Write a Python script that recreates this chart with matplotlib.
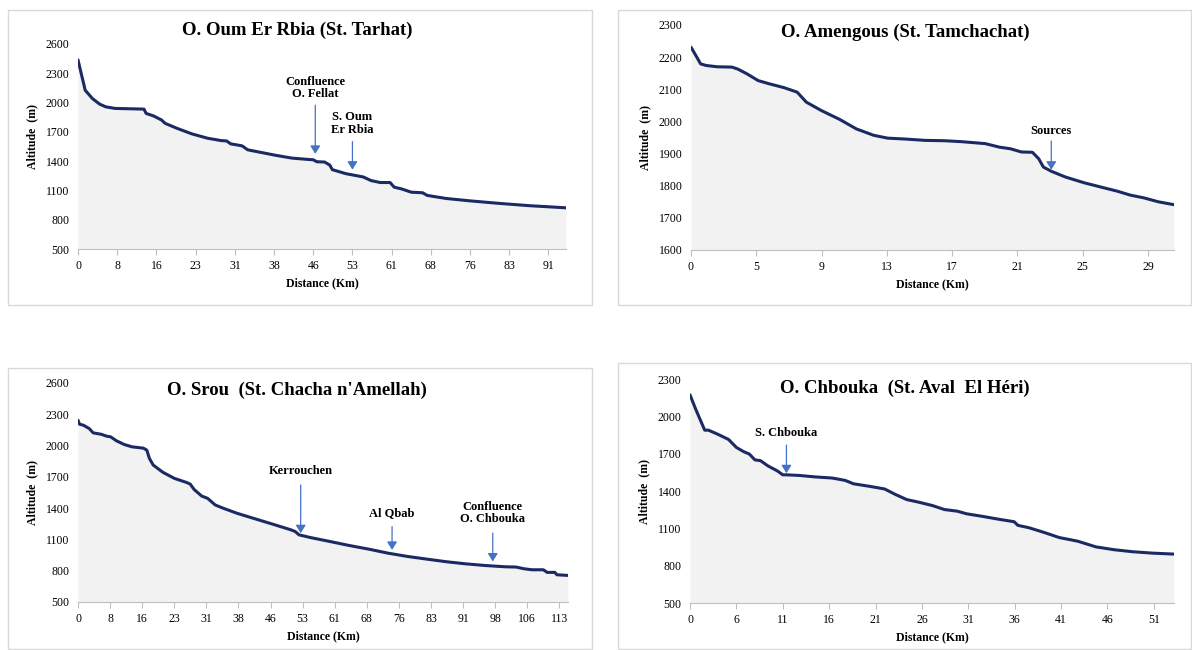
import numpy as np
import matplotlib.pyplot as plt
from matplotlib.patches import Rectangle

plt.rcParams['font.family'] = ['Liberation Serif', 'DejaVu Serif']

# O. Oum Er Rbia (St. Tarhat)
km_oum = [0, 1.4, 2.8, 4.2, 5.4, 7.2, 12.8, 13.2, 14.7, 16.2, 16.9, 19.2, 22.1, 25.1, 27.7,
          28.8, 29.6, 31.8, 32.9, 35.5, 38.5, 41.5, 44.5, 45.6, 46.3, 47.8, 48.8, 49.3,
          51.9, 55.3, 56.8, 58.6, 60.5, 61.3, 62.7, 64.6, 66.8, 67.7, 71.3, 75.8, 81.7,
          87.7, 94.6]
alt_oum = [2437, 2126, 2041, 1984, 1956, 1940, 1933, 1889, 1862, 1821, 1787, 1736, 1679,
           1635, 1611, 1607, 1577, 1557, 1516, 1489, 1458, 1431, 1418, 1414, 1394, 1391,
           1360, 1313, 1272, 1238, 1201, 1181, 1181, 1133, 1116, 1082, 1076, 1049, 1018,
           994, 967, 943, 922]
ticks_oum = ['0', '8', '16', '23', '31', '38', '46', '53', '61', '68', '76', '83', '91']

# O. Amengous (St. Tamchachat)
km_ame = [0, 0.31, 0.61, 0.97, 1.67, 2.6, 2.97, 3.56, 4.27, 4.98, 5.92, 6.75, 7.33, 8.28,
          9.46, 10.5, 11.6, 12.5, 13.7, 14.9, 16.1, 17.2, 18.7, 19.6, 20.3, 21.0, 21.7,
          22.1, 22.4, 22.9, 23.8, 25.0, 26.2, 27.1, 27.9, 28.8, 29.7, 30.7]
alt_ame = [2231, 2205, 2179, 2174, 2170, 2169, 2163, 2148, 2127, 2117, 2105, 2091, 2060,
           2034, 2006, 1977, 1957, 1948, 1945, 1941, 1940, 1937, 1931, 1920, 1915, 1905,
           1904, 1884, 1858, 1845, 1827, 1809, 1794, 1783, 1771, 1762, 1750, 1741]
ticks_ame = ['0', '5', '9', '13', '17', '21', '25', '29']

# O. Srou (St. Chacha n'Amellah)
km_srou = [0, 0.37, 1.28, 2.65, 3.56, 5.4, 6.75, 7.67, 9.04, 10.9, 12.7, 15.4, 16.2, 16.8,
           17.7, 20.0, 22.7, 25.5, 26.4, 27.3, 29.1, 30.5, 32.3, 34.2, 37.4, 41.0, 45.6,
           50.1, 51.1, 52.0, 54.7, 59.3, 63.8, 68.4, 73.0, 77.5, 82.1, 86.7, 91.2, 95.8,
           100.4, 103.1, 104.9, 106.8, 109.5, 110.4, 112.2, 112.7, 115.3]
alt_srou = [2243, 2205, 2195, 2163, 2122, 2109, 2090, 2084, 2046, 2010, 1988, 1975, 1956,
            1877, 1813, 1743, 1685, 1647, 1631, 1580, 1516, 1494, 1430, 1399, 1351, 1306,
            1249, 1192, 1176, 1144, 1118, 1080, 1042, 1007, 968, 937, 911, 886, 866, 850,
            838, 835, 819, 809, 809, 784, 784, 761, 755]
ticks_srou = ['0', '8', '16', '23', '31', '38', '46', '53', '61', '68', '76', '83', '91',
              '98', '106', '113']

# O. Chbouka (St. Aval El Héri)
km_chb = [0, 0.6, 1.6, 2.0, 3.0, 4.2, 5.05, 5.85, 6.46, 7.07, 7.67, 8.48, 9.5, 10.1, 10.5,
          11.9, 13.5, 15.5, 16.9, 17.8, 19.6, 21.2, 22.4, 23.6, 24.8, 26.4, 27.7, 29.1,
          30.1, 31.7, 33.7, 35.3, 35.7, 36.9, 38.6, 40.2, 42.2, 44.2, 46.2, 48.2, 50.3, 52.7]
alt_chb = [2173, 2061, 1889, 1889, 1857, 1814, 1750, 1716, 1697, 1650, 1644, 1602, 1562,
           1530, 1530, 1525, 1514, 1504, 1485, 1458, 1437, 1416, 1371, 1331, 1312, 1283,
           1251, 1238, 1217, 1198, 1172, 1153, 1124, 1105, 1066, 1026, 997, 951, 928, 912,
           901, 893]
ticks_chb = ['0', '6', '11', '16', '21', '26', '31', '36', '41', '46', '51']

W, H = 1192, 650
fig = plt.figure(figsize=(W / 100, H / 100), dpi=100)

line_col = '#1b2a63'
fill_col = '#f2f2f2'
arrow_col = '#4472c4'


def px_axes(l, t, r, b):
    return fig.add_axes([l / W, 1 - b / H, (r - l) / W, (b - t) / H])


def frame(l, t, r, b):
    fig.patches.append(Rectangle((l / W, 1 - b / H), (r - l) / W, (b - t) / H,
                                 transform=fig.transFigure, fill=False,
                                 edgecolor='#d9d9d9', lw=1.0))


def profile(ax, km, alt, labels, step, yticks, title, title_pos, notes, ylab_y=0.5):
    ax.fill_between(km, alt, yticks[0], color=fill_col, lw=0)
    ax.plot(km, alt, color=line_col, lw=2.2, solid_capstyle='round')
    ax.set_xlim(0, km[-1])
    ax.set_ylim(yticks[0], yticks[-1])
    ax.set_yticks(yticks)
    ax.set_xticks([i * step for i in range(len(labels))])
    ax.set_xticklabels(labels)
    ax.tick_params(axis='y', length=0, labelsize=8.5, pad=6)
    ax.tick_params(axis='x', length=4, color='#bfbfbf', labelsize=8.5, pad=4)
    for s in ['top', 'right', 'left']:
        ax.spines[s].set_visible(False)
    ax.spines['bottom'].set_color('#bfbfbf')
    ax.set_xlabel('Distance (Km)', fontsize=8.5, fontweight='bold', labelpad=4)
    ax.set_ylabel('Altitude  (m)', fontsize=8.5, fontweight='bold')
    ax.yaxis.set_label_coords(-40 / ax.bbox.width, ylab_y)
    fig.text(title_pos[0] / W, 1 - title_pos[1] / H, title, fontsize=13.5,
             fontweight='bold', ha='center', va='center')
    for txt, x, ytxt, y0, y1 in notes:
        ax.text(x, ytxt, txt, ha='center', va='center', fontsize=9,
                fontweight='bold', linespacing=1.05)
        ax.annotate('', xy=(x, y1), xytext=(x, y0),
                    arrowprops=dict(arrowstyle='-|>,head_length=0.4,head_width=0.25',
                                    color=arrow_col, lw=0.9,
                                    mutation_scale=12, shrinkA=0, shrinkB=0))


frame(8, 10, 592, 305)
frame(618, 10, 1191, 305)
frame(8, 368, 592, 649)
frame(618, 363, 1191, 649)

ax1 = px_axes(78, 44, 566, 249)
profile(ax1, km_oum, alt_oum, ticks_oum, 7.6, list(range(500, 2601, 300)),
        'O. Oum Er Rbia (St. Tarhat)', (297, 30),
        [('Confluence\nO. Fellat', 46.0, 2150, 1973, 1475),
         ('S. Oum\nEr Rbia', 53.2, 1787, 1600, 1313)], ylab_y=0.55)

ax2 = px_axes(691, 25, 1174, 250)
profile(ax2, km_ame, alt_ame, ticks_ame, 4.15, list(range(1600, 2301, 100)),
        'O. Amengous (St. Tamchachat)', (905, 32),
        [('Sources', 22.9, 1969, 1939, 1850)])

ax3 = px_axes(78, 383, 568, 602)
profile(ax3, km_srou, alt_srou, ticks_srou, 7.55, list(range(500, 2601, 300)),
        "O. Srou  (St. Chacha n'Amellah)", (297, 390),
        [('Kerrouchen', 52.4, 1756, 1622, 1160),
         ('Al Qbab', 73.9, 1351, 1223, 1000),
         ('Confluence\nO. Chbouka', 97.6, 1351, 1160, 889)])

ax4 = px_axes(690, 379, 1174, 603)
profile(ax4, km_chb, alt_chb, ticks_chb, 5.05, list(range(500, 2301, 300)),
        'O. Chbouka  (St. Aval  El Héri)', (905, 388),
        [('S. Chbouka', 10.5, 1867, 1769, 1543)])

fig.savefig('out.png', dpi=100, facecolor='white')
